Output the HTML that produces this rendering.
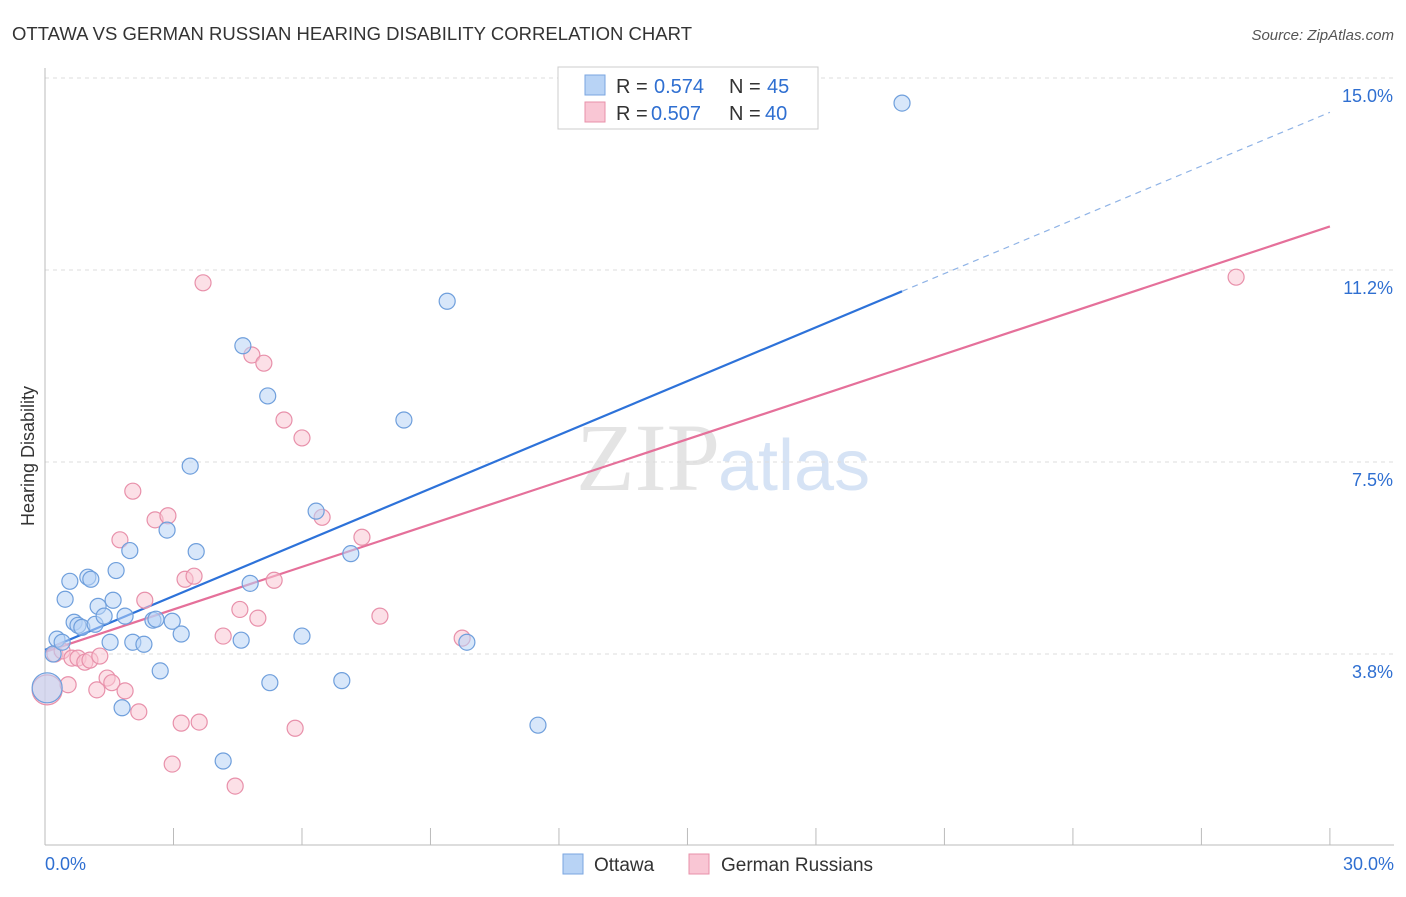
<!DOCTYPE html>
<html><head><meta charset="utf-8"><style>
body{margin:0;background:#fff;font-family:"Liberation Sans",sans-serif}
</style></head><body>
<svg id="chart" width="1406" height="892" xmlns="http://www.w3.org/2000/svg">
<text x="12" y="40" font-size="18.5" fill="#333" textLength="680">OTTAWA VS GERMAN RUSSIAN HEARING DISABILITY CORRELATION CHART</text>
<text x="1394" y="40" font-size="15" fill="#555" font-style="italic" text-anchor="end">Source: ZipAtlas.com</text>
<text x="720" y="490" font-size="96" fill="#e4e4e4" text-anchor="end" font-family="Liberation Serif">ZIP</text>
<text x="718" y="490" font-size="72" fill="#d6e3f5">atlas</text>
<g id="grid"></g><g id="axes"></g><g id="trends"></g><g id="pts"></g>
<g>
<rect x="558" y="67" width="260" height="62" fill="#fff" stroke="#ccc"/>
<rect x="585" y="75" width="20" height="20" fill="#b8d3f5" stroke="#7aa6e0"/>
<text x="616" y="93" font-size="20" fill="#333">R =</text><text x="654" y="93" font-size="20" fill="#2f6fd1">0.574</text>
<text x="729" y="93" font-size="20" fill="#333">N =</text><text x="767" y="93" font-size="20" fill="#2f6fd1">45</text>
<rect x="585" y="102" width="20" height="20" fill="#f9c6d4" stroke="#e890aa"/>
<text x="616" y="120" font-size="20" fill="#333">R =</text><text x="651" y="120" font-size="20" fill="#2f6fd1">0.507</text>
<text x="729" y="120" font-size="20" fill="#333">N =</text><text x="765" y="120" font-size="20" fill="#2f6fd1">40</text>
</g>
<g>
<rect x="563" y="854" width="20" height="20" fill="#b8d3f5" stroke="#7aa6e0"/>
<text x="594" y="871" font-size="19" fill="#333">Ottawa</text>
<rect x="689" y="854" width="20" height="20" fill="#f9c6d4" stroke="#e890aa"/>
<text x="721" y="871" font-size="19" fill="#333">German Russians</text>
</g>
<text transform="translate(34,456) rotate(-90)" font-size="18" fill="#333" text-anchor="middle">Hearing Disability</text>
</svg>
<script>
const yTicks=[3.75,7.5,11.25,15.0];
const yTickLabels=["3.8%","7.5%","11.2%","15.0%"];
const xTickLabels=["0.0%","30.0%"];
const blueX=[0.05,0.19,0.28,0.4,0.47,0.58,0.68,0.77,0.86,1.0,1.07,1.17,1.24,1.38,1.52,1.59,1.66,1.8,1.87,1.98,2.05,2.31,2.52,2.59,2.69,2.85,2.97,3.18,3.39,3.53,4.16,4.58,4.62,4.79,5.2,5.25,6.0,6.33,6.93,7.14,8.38,9.39,9.85,11.51,20.01];
const blueY=[3.09,3.75,4.04,3.98,4.82,5.17,4.37,4.31,4.27,5.25,5.21,4.33,4.68,4.49,3.98,4.80,5.38,2.70,4.49,5.77,3.98,3.94,4.41,4.43,3.42,6.17,4.39,4.14,7.42,5.75,1.66,4.02,9.77,5.13,8.79,3.19,4.10,6.54,3.23,5.71,8.32,10.64,3.98,2.36,14.51];
const pinkX=[0.05,0.23,0.4,0.54,0.63,0.77,0.93,1.05,1.21,1.28,1.45,1.56,1.75,1.87,2.05,2.19,2.33,2.57,2.87,2.97,3.18,3.27,3.48,3.6,3.69,4.16,4.44,4.55,4.83,4.97,5.11,5.35,5.58,5.84,6.0,6.47,7.4,7.82,9.74,27.81];
const pinkY=[3.05,3.75,3.81,3.15,3.67,3.67,3.59,3.63,3.05,3.71,3.28,3.19,5.98,3.03,6.93,2.62,4.80,6.37,6.45,1.60,2.40,5.21,5.27,2.42,11.0,4.10,1.17,4.62,9.59,4.45,9.43,5.19,8.32,2.30,7.97,6.42,6.03,4.49,4.06,11.11];
const blueTrend=[3.83,0.350], pinkTrend=[3.79,0.277];
const NS="http://www.w3.org/2000/svg";
const X=v=>45+v*42.83, Y=v=>654-(v-3.75)*51.2;
function mk(tag,attrs,parent){const e=document.createElementNS(NS,tag);for(const k in attrs)e.setAttribute(k,attrs[k]);document.getElementById(parent).appendChild(e);return e;}
yTicks.forEach((t,i)=>{
 const l=mk('line',{x1:45,x2:1394,y1:Y(t),y2:Y(t),stroke:'#ddd','stroke-dasharray':'4,4'},'grid');
 
 
 const tx=mk('text',{x:1393,y:Y(t)+24,'font-size':18,fill:'#2f6fd1','text-anchor':'end'},'grid');
 tx.textContent=yTickLabels[i];
 
 
});
const ax=mk('line',{x1:45,x2:1394,y1:845,y2:845,stroke:'#bbb'},'axes');


const ay=mk('line',{x1:45,x2:45,y1:68,y2:845,stroke:'#bbb'},'axes');


for(let i=0;i<=10;i++){const t=mk('line',{x1:X(i*3),x2:X(i*3),y1:828,y2:845,stroke:'#bbb'},'axes');
 
 }
[[0,'start',45],[30,'end',1394]].forEach((d,i)=>{const t=mk('text',{x:d[2],y:870,'font-size':18,fill:'#2f6fd1','text-anchor':d[1]},'axes');t.textContent=xTickLabels[i];
 
 });
const bEnd=20.01;
let t1=mk('line',{x1:X(0),y1:Y(blueTrend[0]),x2:X(bEnd),y2:Y(blueTrend[0]+blueTrend[1]*bEnd),stroke:'#2d72d9','stroke-width':2.2},'trends');


let t2=mk('line',{x1:X(bEnd),y1:Y(blueTrend[0]+blueTrend[1]*bEnd),x2:X(30),y2:Y(blueTrend[0]+blueTrend[1]*30),stroke:'#8fb3e6','stroke-width':1.2,'stroke-dasharray':'6,5'},'trends');


let t3=mk('line',{x1:X(0),y1:Y(pinkTrend[0]),x2:X(30),y2:Y(pinkTrend[0]+pinkTrend[1]*30),stroke:'#e5709a','stroke-width':2.2},'trends');


function pts(xs,ys,fill,stroke,name){xs.forEach((x,i)=>{const c=mk('circle',{cx:X(x),cy:Y(ys[i]),r:i==0?15:8,fill:fill,'fill-opacity':0.55,stroke:stroke,'stroke-width':1.2},'pts');
 
 });}
pts(pinkX,pinkY,'#f9c6d4','#e890aa','german-russians-point');
pts(blueX,blueY,'#b8d3f5','#6f9fdc','ottawa-point');
</script>
</body></html>
